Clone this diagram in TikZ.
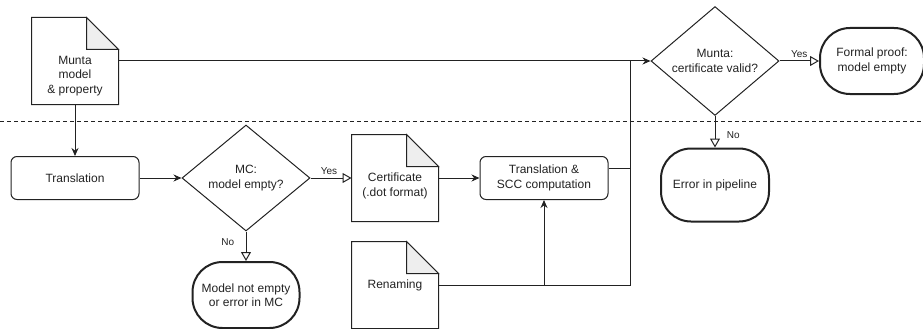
\documentclass[tikz,border=0pt]{standalone}
\usepackage{fontspec}
\setmainfont{Liberation Sans}
\usetikzlibrary{shapes.geometric,arrows.meta}

\definecolor{foldgray}{HTML}{EEEEEE}
\definecolor{inkgray}{HTML}{222222}

\newcommand{\docoutline}[1]{%
  \draw (#1.south west) -- (#1.north west) -- ([xshift=-32pt]#1.north east)
    -- ([yshift=-32pt]#1.north east) -- (#1.south east) -- cycle;
  \filldraw[fill=foldgray] ([xshift=-32pt]#1.north east)
    -- ([xshift=-32pt,yshift=-32pt]#1.north east) -- ([yshift=-32pt]#1.north east) -- cycle;}

\tikzset{
  doc/.style={minimum width=86pt, minimum height=86pt, inner sep=0pt},
  stepbox/.style={draw, rounded corners=6pt, minimum width=128pt, minimum height=43pt, align=center},
  check/.style={draw, diamond, minimum width=128pt, minimum height=106pt, inner sep=0pt, align=center},
  stopbox/.style={draw, line width=2pt, rounded corners=30pt, minimum height=66pt, align=center, inner sep=2pt},
  flow/.style={-{Stealth[length=8pt,width=7pt]}},
  branch/.style={-{Triangle[open,length=9pt,width=10pt]}, fill=white},
  edgelabel/.style={font=\fontsize{10}{12}\selectfont}
}

\begin{document}
\begin{tikzpicture}[x=1pt, y=-1pt, line width=1pt, draw=inkgray, text=inkgray,
    font=\fontsize{12}{14.5}\selectfont]
  \useasboundingbox (0,0) rectangle (923,329);

  % upper part: Munta
  \node[doc] (munta) at (75,61) {};
  \node (mlabel) at ([yshift=-15pt]munta.center) [align=center] {Munta\\model\\\& property};
  \node[check] (muntachk) at (715,61) {Munta:\\certificate valid?};
  \node[stopbox, minimum width=104pt] (proof) [right of=muntachk, node distance=157pt] {Formal proof:\\model empty};
  \node[stopbox, minimum width=108pt, minimum height=73pt] (error) [below of=muntachk, node distance=124pt] {Error in pipeline};

  \draw[dash pattern=on 4pt off 3pt] (0,121) -- (923,121);

  % lower part: model checker
  \node[stepbox] (trans) [below of=munta, node distance=117pt] {Translation};
  \node[check] (mc) [right of=trans, node distance=171pt] {MC:\\model empty?};
  \node[doc] (cert) [right of=mc, node distance=149pt] {};
  \node (clabel) at ([yshift=-8pt]cert.center) [align=center] {Certificate\\(.dot format)};
  \node[stepbox] (tscc) [right of=cert, node distance=149pt] {Translation \&\\SCC computation};
  \node[doc] (renaming) [below of=cert, node distance=107pt] {Renaming};
  \node[stopbox, minimum width=107pt] (notempty) [below of=mc, node distance=117pt] {Model not empty\\or error in MC};

  \docoutline{munta}
  \docoutline{cert}
  \docoutline{renaming}

  \coordinate (join) at (630,61);

  \draw[flow] (munta.south) -- (trans.north);
  \draw[flow] (trans.east) -- (mc.west);
  \draw[branch] (mc.east) -- node[edgelabel, above, pos=0.45] {Yes} (cert.west);
  \draw[branch] (mc.south) -- node[edgelabel, left=8pt, pos=0.35] {No} (notempty.north);
  \draw[flow] (cert.east) -- (tscc.west);
  \draw[flow] (renaming.east -| tscc.south) -- (tscc.south);
  \draw ([yshift=10pt]tscc.east) -| (join);
  \draw (renaming.east) -| (join);
  \draw[flow] (munta.east) -- (muntachk.west);
  \draw[branch] (muntachk.east) -- node[edgelabel, above, pos=0.5] {Yes} (proof.west);
  \draw[branch] (muntachk.south) -- node[edgelabel, right=8pt, pos=0.6] {No} (error.north);
\end{tikzpicture}
\end{document}
